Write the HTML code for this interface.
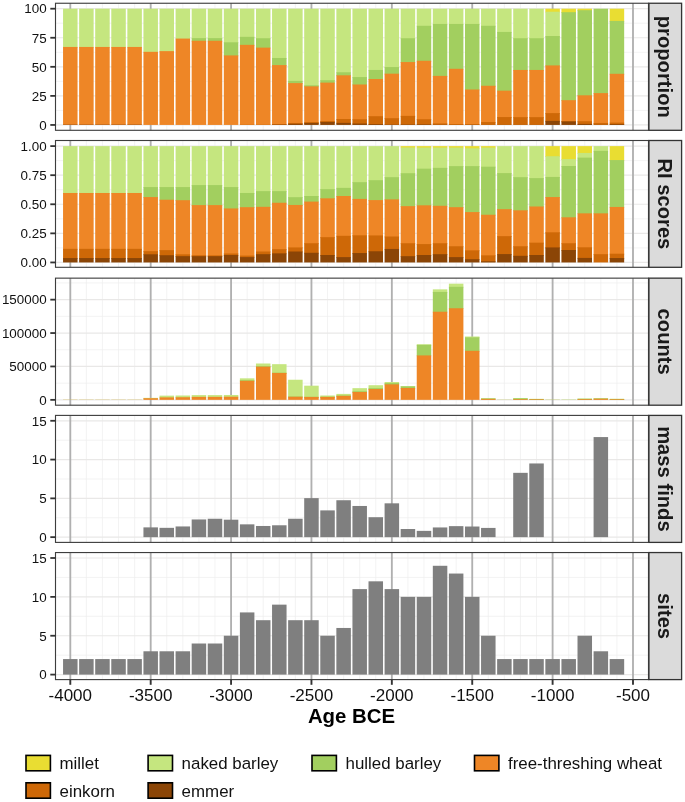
<!DOCTYPE html>
<html><head><meta charset="utf-8"><title>chart</title>
<style>html,body{margin:0;padding:0;background:#fff}body{width:685px;height:802px;overflow:hidden;font-family:"Liberation Sans",sans-serif}</style>
</head><body>
<svg width="685" height="802" viewBox="0 0 685 802" style="display:block;will-change:transform;font-family:'Liberation Sans',sans-serif">
<rect width="685" height="802" fill="#fff"/>
<g>
<line x1="55.5" x2="648.5" y1="110.42" y2="110.42" stroke="#eeeeee" stroke-width="0.7"/>
<line x1="55.5" x2="648.5" y1="81.36" y2="81.36" stroke="#eeeeee" stroke-width="0.7"/>
<line x1="55.5" x2="648.5" y1="52.29" y2="52.29" stroke="#eeeeee" stroke-width="0.7"/>
<line x1="55.5" x2="648.5" y1="23.23" y2="23.23" stroke="#eeeeee" stroke-width="0.7"/>
<line x1="86.38" x2="86.38" y1="3.25" y2="130.3" stroke="#eeeeee" stroke-width="0.7"/>
<line x1="102.45" x2="102.45" y1="3.25" y2="130.3" stroke="#eeeeee" stroke-width="0.7"/>
<line x1="118.53" x2="118.53" y1="3.25" y2="130.3" stroke="#eeeeee" stroke-width="0.7"/>
<line x1="134.61" x2="134.61" y1="3.25" y2="130.3" stroke="#eeeeee" stroke-width="0.7"/>
<line x1="166.76" x2="166.76" y1="3.25" y2="130.3" stroke="#eeeeee" stroke-width="0.7"/>
<line x1="182.84" x2="182.84" y1="3.25" y2="130.3" stroke="#eeeeee" stroke-width="0.7"/>
<line x1="198.92" x2="198.92" y1="3.25" y2="130.3" stroke="#eeeeee" stroke-width="0.7"/>
<line x1="214.99" x2="214.99" y1="3.25" y2="130.3" stroke="#eeeeee" stroke-width="0.7"/>
<line x1="247.15" x2="247.15" y1="3.25" y2="130.3" stroke="#eeeeee" stroke-width="0.7"/>
<line x1="263.22" x2="263.22" y1="3.25" y2="130.3" stroke="#eeeeee" stroke-width="0.7"/>
<line x1="279.3" x2="279.3" y1="3.25" y2="130.3" stroke="#eeeeee" stroke-width="0.7"/>
<line x1="295.38" x2="295.38" y1="3.25" y2="130.3" stroke="#eeeeee" stroke-width="0.7"/>
<line x1="327.53" x2="327.53" y1="3.25" y2="130.3" stroke="#eeeeee" stroke-width="0.7"/>
<line x1="343.61" x2="343.61" y1="3.25" y2="130.3" stroke="#eeeeee" stroke-width="0.7"/>
<line x1="359.69" x2="359.69" y1="3.25" y2="130.3" stroke="#eeeeee" stroke-width="0.7"/>
<line x1="375.76" x2="375.76" y1="3.25" y2="130.3" stroke="#eeeeee" stroke-width="0.7"/>
<line x1="407.92" x2="407.92" y1="3.25" y2="130.3" stroke="#eeeeee" stroke-width="0.7"/>
<line x1="423.99" x2="423.99" y1="3.25" y2="130.3" stroke="#eeeeee" stroke-width="0.7"/>
<line x1="440.07" x2="440.07" y1="3.25" y2="130.3" stroke="#eeeeee" stroke-width="0.7"/>
<line x1="456.15" x2="456.15" y1="3.25" y2="130.3" stroke="#eeeeee" stroke-width="0.7"/>
<line x1="488.3" x2="488.3" y1="3.25" y2="130.3" stroke="#eeeeee" stroke-width="0.7"/>
<line x1="504.38" x2="504.38" y1="3.25" y2="130.3" stroke="#eeeeee" stroke-width="0.7"/>
<line x1="520.46" x2="520.46" y1="3.25" y2="130.3" stroke="#eeeeee" stroke-width="0.7"/>
<line x1="536.53" x2="536.53" y1="3.25" y2="130.3" stroke="#eeeeee" stroke-width="0.7"/>
<line x1="568.69" x2="568.69" y1="3.25" y2="130.3" stroke="#eeeeee" stroke-width="0.7"/>
<line x1="584.76" x2="584.76" y1="3.25" y2="130.3" stroke="#eeeeee" stroke-width="0.7"/>
<line x1="600.84" x2="600.84" y1="3.25" y2="130.3" stroke="#eeeeee" stroke-width="0.7"/>
<line x1="616.92" x2="616.92" y1="3.25" y2="130.3" stroke="#eeeeee" stroke-width="0.7"/>
<line x1="55.5" x2="648.5" y1="124.95" y2="124.95" stroke="#e9e8e7" stroke-width="1.2"/>
<line x1="55.5" x2="648.5" y1="95.89" y2="95.89" stroke="#e9e8e7" stroke-width="1.2"/>
<line x1="55.5" x2="648.5" y1="66.82" y2="66.82" stroke="#e9e8e7" stroke-width="1.2"/>
<line x1="55.5" x2="648.5" y1="37.76" y2="37.76" stroke="#e9e8e7" stroke-width="1.2"/>
<line x1="55.5" x2="648.5" y1="8.7" y2="8.7" stroke="#e9e8e7" stroke-width="1.2"/>
<line x1="70.3" x2="70.3" y1="3.25" y2="130.3" stroke="#b0b0b0" stroke-width="1.85"/>
<line x1="150.69" x2="150.69" y1="3.25" y2="130.3" stroke="#b0b0b0" stroke-width="1.85"/>
<line x1="231.07" x2="231.07" y1="3.25" y2="130.3" stroke="#b0b0b0" stroke-width="1.85"/>
<line x1="311.45" x2="311.45" y1="3.25" y2="130.3" stroke="#b0b0b0" stroke-width="1.85"/>
<line x1="391.84" x2="391.84" y1="3.25" y2="130.3" stroke="#b0b0b0" stroke-width="1.85"/>
<line x1="472.23" x2="472.23" y1="3.25" y2="130.3" stroke="#b0b0b0" stroke-width="1.85"/>
<line x1="552.61" x2="552.61" y1="3.25" y2="130.3" stroke="#b0b0b0" stroke-width="1.85"/>
<line x1="632.99" x2="632.99" y1="3.25" y2="130.3" stroke="#b0b0b0" stroke-width="1.85"/>
<rect x="63.05" y="8.7" width="14.5" height="39.05" fill="#c5e67f"/>
<rect x="63.05" y="46.95" width="14.5" height="78" fill="#ee8626"/>
<rect x="63.05" y="124.6" width="14.5" height="0.35" fill="#8b4506"/>
<rect x="79.13" y="8.7" width="14.5" height="39.05" fill="#c5e67f"/>
<rect x="79.13" y="46.95" width="14.5" height="78" fill="#ee8626"/>
<rect x="79.13" y="124.6" width="14.5" height="0.35" fill="#8b4506"/>
<rect x="95.2" y="8.7" width="14.5" height="39.05" fill="#c5e67f"/>
<rect x="95.2" y="46.95" width="14.5" height="78" fill="#ee8626"/>
<rect x="95.2" y="124.6" width="14.5" height="0.35" fill="#8b4506"/>
<rect x="111.28" y="8.7" width="14.5" height="39.05" fill="#c5e67f"/>
<rect x="111.28" y="46.95" width="14.5" height="78" fill="#ee8626"/>
<rect x="111.28" y="124.6" width="14.5" height="0.35" fill="#8b4506"/>
<rect x="127.36" y="8.7" width="14.5" height="39.05" fill="#c5e67f"/>
<rect x="127.36" y="46.95" width="14.5" height="78" fill="#ee8626"/>
<rect x="127.36" y="124.6" width="14.5" height="0.35" fill="#8b4506"/>
<rect x="143.44" y="8.7" width="14.5" height="43.93" fill="#c5e67f"/>
<rect x="143.44" y="51.83" width="14.5" height="73.12" fill="#ee8626"/>
<rect x="159.51" y="8.7" width="14.5" height="43.23" fill="#c5e67f"/>
<rect x="159.51" y="51.13" width="14.5" height="73.82" fill="#ee8626"/>
<rect x="175.59" y="8.7" width="14.5" height="30.68" fill="#c5e67f"/>
<rect x="175.59" y="38.58" width="14.5" height="86.37" fill="#ee8626"/>
<rect x="191.67" y="8.7" width="14.5" height="30.21" fill="#c5e67f"/>
<rect x="191.67" y="38.11" width="14.5" height="3.47" fill="#a2cf5f"/>
<rect x="191.67" y="40.78" width="14.5" height="84.17" fill="#ee8626"/>
<rect x="207.74" y="8.7" width="14.5" height="30.21" fill="#c5e67f"/>
<rect x="207.74" y="38.11" width="14.5" height="3.47" fill="#a2cf5f"/>
<rect x="207.74" y="40.78" width="14.5" height="84.17" fill="#ee8626"/>
<rect x="223.82" y="8.7" width="14.5" height="34.4" fill="#c5e67f"/>
<rect x="223.82" y="42.3" width="14.5" height="13.94" fill="#a2cf5f"/>
<rect x="223.82" y="55.43" width="14.5" height="69.52" fill="#ee8626"/>
<rect x="239.9" y="8.7" width="14.5" height="28.93" fill="#c5e67f"/>
<rect x="239.9" y="36.83" width="14.5" height="8.82" fill="#a2cf5f"/>
<rect x="239.9" y="44.85" width="14.5" height="80.1" fill="#ee8626"/>
<rect x="239.9" y="124.6" width="14.5" height="0.35" fill="#ce6807"/>
<rect x="255.97" y="8.7" width="14.5" height="30.33" fill="#c5e67f"/>
<rect x="255.97" y="38.23" width="14.5" height="10.22" fill="#a2cf5f"/>
<rect x="255.97" y="47.64" width="14.5" height="77.31" fill="#ee8626"/>
<rect x="255.97" y="124.6" width="14.5" height="0.35" fill="#ce6807"/>
<rect x="272.05" y="8.7" width="14.5" height="50.09" fill="#c5e67f"/>
<rect x="272.05" y="57.99" width="14.5" height="7.89" fill="#a2cf5f"/>
<rect x="272.05" y="65.08" width="14.5" height="59.87" fill="#ee8626"/>
<rect x="272.05" y="124.25" width="14.5" height="0.7" fill="#ce6807"/>
<rect x="272.05" y="124.6" width="14.5" height="0.35" fill="#8b4506"/>
<rect x="288.13" y="8.7" width="14.5" height="72.99" fill="#c5e67f"/>
<rect x="288.13" y="80.89" width="14.5" height="3.01" fill="#a2cf5f"/>
<rect x="288.13" y="83.1" width="14.5" height="40.67" fill="#ee8626"/>
<rect x="288.13" y="122.97" width="14.5" height="1.61" fill="#ce6807"/>
<rect x="288.13" y="123.79" width="14.5" height="1.16" fill="#8b4506"/>
<rect x="304.2" y="8.7" width="14.5" height="77.41" fill="#c5e67f"/>
<rect x="304.2" y="85.31" width="14.5" height="1.85" fill="#a2cf5f"/>
<rect x="304.2" y="86.35" width="14.5" height="36.49" fill="#ee8626"/>
<rect x="304.2" y="122.04" width="14.5" height="1.73" fill="#ce6807"/>
<rect x="304.2" y="122.97" width="14.5" height="1.98" fill="#8b4506"/>
<rect x="320.28" y="8.7" width="14.5" height="72.29" fill="#c5e67f"/>
<rect x="320.28" y="80.19" width="14.5" height="3.24" fill="#a2cf5f"/>
<rect x="320.28" y="82.63" width="14.5" height="39.16" fill="#ee8626"/>
<rect x="320.28" y="121" width="14.5" height="1.85" fill="#ce6807"/>
<rect x="320.28" y="122.04" width="14.5" height="2.91" fill="#8b4506"/>
<rect x="336.36" y="8.7" width="14.5" height="64.39" fill="#c5e67f"/>
<rect x="336.36" y="72.29" width="14.5" height="3.82" fill="#a2cf5f"/>
<rect x="336.36" y="75.31" width="14.5" height="44.51" fill="#ee8626"/>
<rect x="336.36" y="119.02" width="14.5" height="4.64" fill="#ce6807"/>
<rect x="336.36" y="122.86" width="14.5" height="2.09" fill="#8b4506"/>
<rect x="352.44" y="8.7" width="14.5" height="69.16" fill="#c5e67f"/>
<rect x="352.44" y="77.05" width="14.5" height="8.24" fill="#a2cf5f"/>
<rect x="352.44" y="84.5" width="14.5" height="35.56" fill="#ee8626"/>
<rect x="352.44" y="119.25" width="14.5" height="5.1" fill="#ce6807"/>
<rect x="352.44" y="123.56" width="14.5" height="1.39" fill="#8b4506"/>
<rect x="368.51" y="8.7" width="14.5" height="62.06" fill="#c5e67f"/>
<rect x="368.51" y="69.96" width="14.5" height="9.87" fill="#a2cf5f"/>
<rect x="368.51" y="79.03" width="14.5" height="38" fill="#ee8626"/>
<rect x="368.51" y="116.23" width="14.5" height="8.7" fill="#ce6807"/>
<rect x="368.51" y="124.14" width="14.5" height="0.81" fill="#8b4506"/>
<rect x="384.59" y="8.7" width="14.5" height="59.16" fill="#c5e67f"/>
<rect x="384.59" y="67.06" width="14.5" height="7.43" fill="#a2cf5f"/>
<rect x="384.59" y="73.68" width="14.5" height="45.32" fill="#ee8626"/>
<rect x="384.59" y="118.21" width="14.5" height="6.74" fill="#ce6807"/>
<rect x="384.59" y="124.6" width="14.5" height="0.35" fill="#8b4506"/>
<rect x="400.67" y="8.7" width="14.5" height="30.33" fill="#c5e67f"/>
<rect x="400.67" y="38.23" width="14.5" height="24.63" fill="#a2cf5f"/>
<rect x="400.67" y="62.06" width="14.5" height="54.62" fill="#ee8626"/>
<rect x="400.67" y="115.88" width="14.5" height="9.07" fill="#ce6807"/>
<rect x="400.67" y="124.48" width="14.5" height="0.47" fill="#8b4506"/>
<rect x="416.74" y="8.7" width="14.5" height="17.89" fill="#c5e67f"/>
<rect x="416.74" y="25.79" width="14.5" height="35.79" fill="#a2cf5f"/>
<rect x="416.74" y="60.78" width="14.5" height="59.27" fill="#ee8626"/>
<rect x="416.74" y="119.25" width="14.5" height="5.7" fill="#ce6807"/>
<rect x="416.74" y="124.37" width="14.5" height="0.58" fill="#8b4506"/>
<rect x="432.82" y="8.7" width="14.5" height="16.03" fill="#c5e67f"/>
<rect x="432.82" y="23.93" width="14.5" height="52.76" fill="#a2cf5f"/>
<rect x="432.82" y="75.89" width="14.5" height="48.35" fill="#ee8626"/>
<rect x="432.82" y="123.44" width="14.5" height="1.51" fill="#ce6807"/>
<rect x="432.82" y="124.72" width="14.5" height="0.23" fill="#8b4506"/>
<rect x="448.9" y="8.7" width="14.5" height="16.03" fill="#c5e67f"/>
<rect x="448.9" y="23.93" width="14.5" height="45.67" fill="#a2cf5f"/>
<rect x="448.9" y="68.8" width="14.5" height="56.13" fill="#ee8626"/>
<rect x="448.9" y="124.14" width="14.5" height="0.81" fill="#ce6807"/>
<rect x="448.9" y="124.83" width="14.5" height="0.12" fill="#8b4506"/>
<rect x="464.98" y="8.7" width="14.5" height="16.03" fill="#c5e67f"/>
<rect x="464.98" y="23.93" width="14.5" height="66.37" fill="#a2cf5f"/>
<rect x="464.98" y="89.49" width="14.5" height="35.44" fill="#ee8626"/>
<rect x="464.98" y="124.14" width="14.5" height="0.81" fill="#ce6807"/>
<rect x="464.98" y="124.83" width="14.5" height="0.12" fill="#8b4506"/>
<rect x="481.05" y="8.7" width="14.5" height="17.89" fill="#c5e67f"/>
<rect x="481.05" y="25.79" width="14.5" height="60.79" fill="#a2cf5f"/>
<rect x="481.05" y="85.77" width="14.5" height="37.07" fill="#ee8626"/>
<rect x="481.05" y="122.04" width="14.5" height="2.91" fill="#ce6807"/>
<rect x="481.05" y="124.83" width="14.5" height="0.12" fill="#8b4506"/>
<rect x="497.13" y="8.7" width="14.5" height="24.05" fill="#c5e67f"/>
<rect x="497.13" y="31.95" width="14.5" height="59.51" fill="#a2cf5f"/>
<rect x="497.13" y="90.66" width="14.5" height="27.19" fill="#ee8626"/>
<rect x="497.13" y="117.05" width="14.5" height="7.91" fill="#ce6807"/>
<rect x="497.13" y="124.83" width="14.5" height="0.12" fill="#8b4506"/>
<rect x="513.21" y="8.7" width="14.5" height="30.33" fill="#c5e67f"/>
<rect x="513.21" y="38.23" width="14.5" height="32.54" fill="#a2cf5f"/>
<rect x="513.21" y="69.96" width="14.5" height="48" fill="#ee8626"/>
<rect x="513.21" y="117.16" width="14.5" height="7.79" fill="#ce6807"/>
<rect x="513.21" y="124.83" width="14.5" height="0.12" fill="#8b4506"/>
<rect x="529.28" y="8.7" width="14.5" height="30.33" fill="#c5e67f"/>
<rect x="529.28" y="38.23" width="14.5" height="32.54" fill="#a2cf5f"/>
<rect x="529.28" y="69.96" width="14.5" height="48" fill="#ee8626"/>
<rect x="529.28" y="117.16" width="14.5" height="7.79" fill="#ce6807"/>
<rect x="529.28" y="124.83" width="14.5" height="0.12" fill="#8b4506"/>
<rect x="545.36" y="8.7" width="14.5" height="3.82" fill="#e9dd32"/>
<rect x="545.36" y="11.72" width="14.5" height="25.1" fill="#c5e67f"/>
<rect x="545.36" y="36.02" width="14.5" height="30.21" fill="#a2cf5f"/>
<rect x="545.36" y="65.43" width="14.5" height="48.46" fill="#ee8626"/>
<rect x="545.36" y="113.09" width="14.5" height="8.59" fill="#ce6807"/>
<rect x="545.36" y="120.88" width="14.5" height="4.07" fill="#8b4506"/>
<rect x="561.44" y="8.7" width="14.5" height="4.29" fill="#e9dd32"/>
<rect x="561.44" y="12.19" width="14.5" height="88.8" fill="#a2cf5f"/>
<rect x="561.44" y="100.19" width="14.5" height="21.72" fill="#ee8626"/>
<rect x="561.44" y="121.11" width="14.5" height="1.15" fill="#ce6807"/>
<rect x="561.44" y="121.46" width="14.5" height="3.49" fill="#8b4506"/>
<rect x="577.51" y="8.7" width="14.5" height="2.31" fill="#e9dd32"/>
<rect x="577.51" y="10.21" width="14.5" height="85.9" fill="#a2cf5f"/>
<rect x="577.51" y="95.31" width="14.5" height="26.72" fill="#ee8626"/>
<rect x="577.51" y="121.23" width="14.5" height="3.47" fill="#ce6807"/>
<rect x="577.51" y="123.9" width="14.5" height="1.05" fill="#8b4506"/>
<rect x="593.59" y="8.7" width="14.5" height="85.2" fill="#a2cf5f"/>
<rect x="593.59" y="93.1" width="14.5" height="30.68" fill="#ee8626"/>
<rect x="593.59" y="122.97" width="14.5" height="1.98" fill="#ce6807"/>
<rect x="593.59" y="124.72" width="14.5" height="0.23" fill="#8b4506"/>
<rect x="609.67" y="8.7" width="14.5" height="13.01" fill="#e9dd32"/>
<rect x="609.67" y="20.91" width="14.5" height="53.69" fill="#a2cf5f"/>
<rect x="609.67" y="73.8" width="14.5" height="49.62" fill="#ee8626"/>
<rect x="609.67" y="122.62" width="14.5" height="2.31" fill="#ce6807"/>
<rect x="609.67" y="124.14" width="14.5" height="0.81" fill="#8b4506"/>
<rect x="55.5" y="3.25" width="593" height="127.05" fill="none" stroke="#3d3d3d" stroke-width="1.12"/>
<rect x="648.95" y="3.25" width="32.65" height="127.05" fill="#dbdbdb" stroke="#333" stroke-width="1.3"/>
<text transform="translate(657.7 66.78) rotate(90)" text-anchor="middle" font-size="20.2" font-weight="bold" fill="#1a1a1a">proportion</text>
<line x1="50.3" x2="55.5" y1="124.95" y2="124.95" stroke="#333" stroke-width="1.8"/>
<text x="46.6" y="130" text-anchor="end" font-size="13.4" fill="#111">0</text>
<line x1="50.3" x2="55.5" y1="95.89" y2="95.89" stroke="#333" stroke-width="1.8"/>
<text x="46.6" y="101" text-anchor="end" font-size="13.4" fill="#111">25</text>
<line x1="50.3" x2="55.5" y1="66.82" y2="66.82" stroke="#333" stroke-width="1.8"/>
<text x="46.6" y="72" text-anchor="end" font-size="13.4" fill="#111">50</text>
<line x1="50.3" x2="55.5" y1="37.76" y2="37.76" stroke="#333" stroke-width="1.8"/>
<text x="46.6" y="43" text-anchor="end" font-size="13.4" fill="#111">75</text>
<line x1="50.3" x2="55.5" y1="8.7" y2="8.7" stroke="#333" stroke-width="1.8"/>
<text x="46.6" y="13" text-anchor="end" font-size="13.4" fill="#111">100</text>
</g>
<g>
<line x1="55.5" x2="648.5" y1="247.91" y2="247.91" stroke="#eeeeee" stroke-width="0.7"/>
<line x1="55.5" x2="648.5" y1="218.82" y2="218.82" stroke="#eeeeee" stroke-width="0.7"/>
<line x1="55.5" x2="648.5" y1="189.73" y2="189.73" stroke="#eeeeee" stroke-width="0.7"/>
<line x1="55.5" x2="648.5" y1="160.64" y2="160.64" stroke="#eeeeee" stroke-width="0.7"/>
<line x1="86.38" x2="86.38" y1="140.5" y2="267.3" stroke="#eeeeee" stroke-width="0.7"/>
<line x1="102.45" x2="102.45" y1="140.5" y2="267.3" stroke="#eeeeee" stroke-width="0.7"/>
<line x1="118.53" x2="118.53" y1="140.5" y2="267.3" stroke="#eeeeee" stroke-width="0.7"/>
<line x1="134.61" x2="134.61" y1="140.5" y2="267.3" stroke="#eeeeee" stroke-width="0.7"/>
<line x1="166.76" x2="166.76" y1="140.5" y2="267.3" stroke="#eeeeee" stroke-width="0.7"/>
<line x1="182.84" x2="182.84" y1="140.5" y2="267.3" stroke="#eeeeee" stroke-width="0.7"/>
<line x1="198.92" x2="198.92" y1="140.5" y2="267.3" stroke="#eeeeee" stroke-width="0.7"/>
<line x1="214.99" x2="214.99" y1="140.5" y2="267.3" stroke="#eeeeee" stroke-width="0.7"/>
<line x1="247.15" x2="247.15" y1="140.5" y2="267.3" stroke="#eeeeee" stroke-width="0.7"/>
<line x1="263.22" x2="263.22" y1="140.5" y2="267.3" stroke="#eeeeee" stroke-width="0.7"/>
<line x1="279.3" x2="279.3" y1="140.5" y2="267.3" stroke="#eeeeee" stroke-width="0.7"/>
<line x1="295.38" x2="295.38" y1="140.5" y2="267.3" stroke="#eeeeee" stroke-width="0.7"/>
<line x1="327.53" x2="327.53" y1="140.5" y2="267.3" stroke="#eeeeee" stroke-width="0.7"/>
<line x1="343.61" x2="343.61" y1="140.5" y2="267.3" stroke="#eeeeee" stroke-width="0.7"/>
<line x1="359.69" x2="359.69" y1="140.5" y2="267.3" stroke="#eeeeee" stroke-width="0.7"/>
<line x1="375.76" x2="375.76" y1="140.5" y2="267.3" stroke="#eeeeee" stroke-width="0.7"/>
<line x1="407.92" x2="407.92" y1="140.5" y2="267.3" stroke="#eeeeee" stroke-width="0.7"/>
<line x1="423.99" x2="423.99" y1="140.5" y2="267.3" stroke="#eeeeee" stroke-width="0.7"/>
<line x1="440.07" x2="440.07" y1="140.5" y2="267.3" stroke="#eeeeee" stroke-width="0.7"/>
<line x1="456.15" x2="456.15" y1="140.5" y2="267.3" stroke="#eeeeee" stroke-width="0.7"/>
<line x1="488.3" x2="488.3" y1="140.5" y2="267.3" stroke="#eeeeee" stroke-width="0.7"/>
<line x1="504.38" x2="504.38" y1="140.5" y2="267.3" stroke="#eeeeee" stroke-width="0.7"/>
<line x1="520.46" x2="520.46" y1="140.5" y2="267.3" stroke="#eeeeee" stroke-width="0.7"/>
<line x1="536.53" x2="536.53" y1="140.5" y2="267.3" stroke="#eeeeee" stroke-width="0.7"/>
<line x1="568.69" x2="568.69" y1="140.5" y2="267.3" stroke="#eeeeee" stroke-width="0.7"/>
<line x1="584.76" x2="584.76" y1="140.5" y2="267.3" stroke="#eeeeee" stroke-width="0.7"/>
<line x1="600.84" x2="600.84" y1="140.5" y2="267.3" stroke="#eeeeee" stroke-width="0.7"/>
<line x1="616.92" x2="616.92" y1="140.5" y2="267.3" stroke="#eeeeee" stroke-width="0.7"/>
<line x1="55.5" x2="648.5" y1="262.45" y2="262.45" stroke="#e9e8e7" stroke-width="1.2"/>
<line x1="55.5" x2="648.5" y1="233.36" y2="233.36" stroke="#e9e8e7" stroke-width="1.2"/>
<line x1="55.5" x2="648.5" y1="204.27" y2="204.27" stroke="#e9e8e7" stroke-width="1.2"/>
<line x1="55.5" x2="648.5" y1="175.19" y2="175.19" stroke="#e9e8e7" stroke-width="1.2"/>
<line x1="55.5" x2="648.5" y1="146.1" y2="146.1" stroke="#e9e8e7" stroke-width="1.2"/>
<line x1="70.3" x2="70.3" y1="140.5" y2="267.3" stroke="#b0b0b0" stroke-width="1.85"/>
<line x1="150.69" x2="150.69" y1="140.5" y2="267.3" stroke="#b0b0b0" stroke-width="1.85"/>
<line x1="231.07" x2="231.07" y1="140.5" y2="267.3" stroke="#b0b0b0" stroke-width="1.85"/>
<line x1="311.45" x2="311.45" y1="140.5" y2="267.3" stroke="#b0b0b0" stroke-width="1.85"/>
<line x1="391.84" x2="391.84" y1="140.5" y2="267.3" stroke="#b0b0b0" stroke-width="1.85"/>
<line x1="472.23" x2="472.23" y1="140.5" y2="267.3" stroke="#b0b0b0" stroke-width="1.85"/>
<line x1="552.61" x2="552.61" y1="140.5" y2="267.3" stroke="#b0b0b0" stroke-width="1.85"/>
<line x1="632.99" x2="632.99" y1="140.5" y2="267.3" stroke="#b0b0b0" stroke-width="1.85"/>
<rect x="63.05" y="146.1" width="14.5" height="47.69" fill="#c5e67f"/>
<rect x="63.05" y="192.99" width="14.5" height="56.65" fill="#ee8626"/>
<rect x="63.05" y="248.84" width="14.5" height="9.99" fill="#ce6807"/>
<rect x="63.05" y="258.03" width="14.5" height="4.42" fill="#8b4506"/>
<rect x="79.13" y="146.1" width="14.5" height="47.69" fill="#c5e67f"/>
<rect x="79.13" y="192.99" width="14.5" height="56.65" fill="#ee8626"/>
<rect x="79.13" y="248.84" width="14.5" height="9.99" fill="#ce6807"/>
<rect x="79.13" y="258.03" width="14.5" height="4.42" fill="#8b4506"/>
<rect x="95.2" y="146.1" width="14.5" height="47.69" fill="#c5e67f"/>
<rect x="95.2" y="192.99" width="14.5" height="56.65" fill="#ee8626"/>
<rect x="95.2" y="248.84" width="14.5" height="9.99" fill="#ce6807"/>
<rect x="95.2" y="258.03" width="14.5" height="4.42" fill="#8b4506"/>
<rect x="111.28" y="146.1" width="14.5" height="47.69" fill="#c5e67f"/>
<rect x="111.28" y="192.99" width="14.5" height="56.65" fill="#ee8626"/>
<rect x="111.28" y="248.84" width="14.5" height="9.99" fill="#ce6807"/>
<rect x="111.28" y="258.03" width="14.5" height="4.42" fill="#8b4506"/>
<rect x="127.36" y="146.1" width="14.5" height="47.69" fill="#c5e67f"/>
<rect x="127.36" y="192.99" width="14.5" height="56.65" fill="#ee8626"/>
<rect x="127.36" y="248.84" width="14.5" height="9.99" fill="#ce6807"/>
<rect x="127.36" y="258.03" width="14.5" height="4.42" fill="#8b4506"/>
<rect x="143.44" y="146.1" width="14.5" height="41.76" fill="#c5e67f"/>
<rect x="143.44" y="187.06" width="14.5" height="10.81" fill="#a2cf5f"/>
<rect x="143.44" y="197.06" width="14.5" height="54.9" fill="#ee8626"/>
<rect x="143.44" y="251.16" width="14.5" height="3.94" fill="#ce6807"/>
<rect x="143.44" y="254.31" width="14.5" height="8.14" fill="#8b4506"/>
<rect x="159.51" y="146.1" width="14.5" height="41.76" fill="#c5e67f"/>
<rect x="159.51" y="187.06" width="14.5" height="13.48" fill="#a2cf5f"/>
<rect x="159.51" y="199.74" width="14.5" height="51.18" fill="#ee8626"/>
<rect x="159.51" y="250.12" width="14.5" height="5.92" fill="#ce6807"/>
<rect x="159.51" y="255.24" width="14.5" height="7.21" fill="#8b4506"/>
<rect x="175.59" y="146.1" width="14.5" height="41.76" fill="#c5e67f"/>
<rect x="175.59" y="187.06" width="14.5" height="13.95" fill="#a2cf5f"/>
<rect x="175.59" y="200.2" width="14.5" height="54.9" fill="#ee8626"/>
<rect x="175.59" y="254.31" width="14.5" height="2.66" fill="#ce6807"/>
<rect x="175.59" y="256.17" width="14.5" height="6.28" fill="#8b4506"/>
<rect x="191.67" y="146.1" width="14.5" height="39.78" fill="#c5e67f"/>
<rect x="191.67" y="185.08" width="14.5" height="20.81" fill="#a2cf5f"/>
<rect x="191.67" y="205.09" width="14.5" height="50.95" fill="#ee8626"/>
<rect x="191.67" y="255.24" width="14.5" height="1.73" fill="#ce6807"/>
<rect x="191.67" y="256.17" width="14.5" height="6.28" fill="#8b4506"/>
<rect x="207.74" y="146.1" width="14.5" height="39.78" fill="#c5e67f"/>
<rect x="207.74" y="185.08" width="14.5" height="20.81" fill="#a2cf5f"/>
<rect x="207.74" y="205.09" width="14.5" height="51.06" fill="#ee8626"/>
<rect x="207.74" y="255.35" width="14.5" height="1.61" fill="#ce6807"/>
<rect x="207.74" y="256.17" width="14.5" height="6.28" fill="#8b4506"/>
<rect x="223.82" y="146.1" width="14.5" height="41.76" fill="#c5e67f"/>
<rect x="223.82" y="187.06" width="14.5" height="22.21" fill="#a2cf5f"/>
<rect x="223.82" y="208.46" width="14.5" height="45.83" fill="#ee8626"/>
<rect x="223.82" y="253.49" width="14.5" height="2.31" fill="#ce6807"/>
<rect x="223.82" y="255" width="14.5" height="7.45" fill="#8b4506"/>
<rect x="239.9" y="146.1" width="14.5" height="47.69" fill="#c5e67f"/>
<rect x="239.9" y="192.99" width="14.5" height="14.99" fill="#a2cf5f"/>
<rect x="239.9" y="207.18" width="14.5" height="49.2" fill="#ee8626"/>
<rect x="239.9" y="255.59" width="14.5" height="2.31" fill="#ce6807"/>
<rect x="239.9" y="257.1" width="14.5" height="5.35" fill="#8b4506"/>
<rect x="255.97" y="146.1" width="14.5" height="45.83" fill="#c5e67f"/>
<rect x="255.97" y="191.13" width="14.5" height="16.51" fill="#a2cf5f"/>
<rect x="255.97" y="206.83" width="14.5" height="45.48" fill="#ee8626"/>
<rect x="255.97" y="251.51" width="14.5" height="3.48" fill="#ce6807"/>
<rect x="255.97" y="254.19" width="14.5" height="8.26" fill="#8b4506"/>
<rect x="272.05" y="146.1" width="14.5" height="45.83" fill="#c5e67f"/>
<rect x="272.05" y="191.13" width="14.5" height="12.44" fill="#a2cf5f"/>
<rect x="272.05" y="202.76" width="14.5" height="47.22" fill="#ee8626"/>
<rect x="272.05" y="249.19" width="14.5" height="4.99" fill="#ce6807"/>
<rect x="272.05" y="253.37" width="14.5" height="9.08" fill="#8b4506"/>
<rect x="288.13" y="146.1" width="14.5" height="51.88" fill="#c5e67f"/>
<rect x="288.13" y="197.18" width="14.5" height="8.6" fill="#a2cf5f"/>
<rect x="288.13" y="204.97" width="14.5" height="43.27" fill="#ee8626"/>
<rect x="288.13" y="247.44" width="14.5" height="4.87" fill="#ce6807"/>
<rect x="288.13" y="251.51" width="14.5" height="10.94" fill="#8b4506"/>
<rect x="304.2" y="146.1" width="14.5" height="50.71" fill="#c5e67f"/>
<rect x="304.2" y="196.01" width="14.5" height="6.38" fill="#a2cf5f"/>
<rect x="304.2" y="201.6" width="14.5" height="42.45" fill="#ee8626"/>
<rect x="304.2" y="243.25" width="14.5" height="10.34" fill="#ce6807"/>
<rect x="304.2" y="252.79" width="14.5" height="9.66" fill="#8b4506"/>
<rect x="320.28" y="146.1" width="14.5" height="43.85" fill="#c5e67f"/>
<rect x="320.28" y="189.15" width="14.5" height="9.99" fill="#a2cf5f"/>
<rect x="320.28" y="198.34" width="14.5" height="39.66" fill="#ee8626"/>
<rect x="320.28" y="237.2" width="14.5" height="18.6" fill="#ce6807"/>
<rect x="320.28" y="255" width="14.5" height="7.45" fill="#8b4506"/>
<rect x="336.36" y="146.1" width="14.5" height="42.57" fill="#c5e67f"/>
<rect x="336.36" y="187.87" width="14.5" height="8.94" fill="#a2cf5f"/>
<rect x="336.36" y="196.01" width="14.5" height="40.59" fill="#ee8626"/>
<rect x="336.36" y="235.81" width="14.5" height="22.09" fill="#ce6807"/>
<rect x="336.36" y="257.1" width="14.5" height="5.35" fill="#8b4506"/>
<rect x="352.44" y="146.1" width="14.5" height="36.87" fill="#c5e67f"/>
<rect x="352.44" y="182.17" width="14.5" height="17.55" fill="#a2cf5f"/>
<rect x="352.44" y="198.92" width="14.5" height="37.22" fill="#ee8626"/>
<rect x="352.44" y="235.34" width="14.5" height="18.49" fill="#ce6807"/>
<rect x="352.44" y="253.03" width="14.5" height="9.42" fill="#8b4506"/>
<rect x="368.51" y="146.1" width="14.5" height="34.89" fill="#c5e67f"/>
<rect x="368.51" y="180.19" width="14.5" height="20.7" fill="#a2cf5f"/>
<rect x="368.51" y="200.09" width="14.5" height="36.17" fill="#ee8626"/>
<rect x="368.51" y="235.46" width="14.5" height="16.62" fill="#ce6807"/>
<rect x="368.51" y="251.28" width="14.5" height="11.17" fill="#8b4506"/>
<rect x="384.59" y="146.1" width="14.5" height="31.87" fill="#c5e67f"/>
<rect x="384.59" y="177.17" width="14.5" height="23.02" fill="#a2cf5f"/>
<rect x="384.59" y="199.39" width="14.5" height="37.92" fill="#ee8626"/>
<rect x="384.59" y="236.5" width="14.5" height="13.25" fill="#ce6807"/>
<rect x="384.59" y="248.95" width="14.5" height="13.5" fill="#8b4506"/>
<rect x="400.67" y="146.1" width="14.5" height="2.2" fill="#e9dd32"/>
<rect x="400.67" y="147.5" width="14.5" height="26.51" fill="#c5e67f"/>
<rect x="400.67" y="173.21" width="14.5" height="33.73" fill="#a2cf5f"/>
<rect x="400.67" y="206.14" width="14.5" height="37.92" fill="#ee8626"/>
<rect x="400.67" y="243.25" width="14.5" height="13.71" fill="#ce6807"/>
<rect x="400.67" y="256.17" width="14.5" height="6.28" fill="#8b4506"/>
<rect x="416.74" y="146.1" width="14.5" height="2.31" fill="#e9dd32"/>
<rect x="416.74" y="147.61" width="14.5" height="21.86" fill="#c5e67f"/>
<rect x="416.74" y="168.67" width="14.5" height="37.45" fill="#a2cf5f"/>
<rect x="416.74" y="205.32" width="14.5" height="39.54" fill="#ee8626"/>
<rect x="416.74" y="244.07" width="14.5" height="11.74" fill="#ce6807"/>
<rect x="416.74" y="255" width="14.5" height="7.45" fill="#8b4506"/>
<rect x="432.82" y="146.1" width="14.5" height="2.31" fill="#e9dd32"/>
<rect x="432.82" y="147.61" width="14.5" height="21.04" fill="#c5e67f"/>
<rect x="432.82" y="167.86" width="14.5" height="38.73" fill="#a2cf5f"/>
<rect x="432.82" y="205.79" width="14.5" height="38.26" fill="#ee8626"/>
<rect x="432.82" y="243.25" width="14.5" height="11.74" fill="#ce6807"/>
<rect x="432.82" y="254.19" width="14.5" height="8.26" fill="#8b4506"/>
<rect x="448.9" y="146.1" width="14.5" height="2.31" fill="#e9dd32"/>
<rect x="448.9" y="147.61" width="14.5" height="19.3" fill="#c5e67f"/>
<rect x="448.9" y="166.11" width="14.5" height="41.87" fill="#a2cf5f"/>
<rect x="448.9" y="207.18" width="14.5" height="39.89" fill="#ee8626"/>
<rect x="448.9" y="246.28" width="14.5" height="11.62" fill="#ce6807"/>
<rect x="448.9" y="257.1" width="14.5" height="5.35" fill="#8b4506"/>
<rect x="464.98" y="146.1" width="14.5" height="3.01" fill="#e9dd32"/>
<rect x="464.98" y="148.31" width="14.5" height="18.6" fill="#c5e67f"/>
<rect x="464.98" y="166.11" width="14.5" height="46.76" fill="#a2cf5f"/>
<rect x="464.98" y="212.07" width="14.5" height="39.08" fill="#ee8626"/>
<rect x="464.98" y="250.35" width="14.5" height="9.64" fill="#ce6807"/>
<rect x="464.98" y="259.19" width="14.5" height="3.26" fill="#8b4506"/>
<rect x="481.05" y="146.1" width="14.5" height="2.31" fill="#e9dd32"/>
<rect x="481.05" y="147.61" width="14.5" height="19.88" fill="#c5e67f"/>
<rect x="481.05" y="166.69" width="14.5" height="48.85" fill="#a2cf5f"/>
<rect x="481.05" y="214.75" width="14.5" height="41.41" fill="#ee8626"/>
<rect x="481.05" y="255.35" width="14.5" height="6.73" fill="#ce6807"/>
<rect x="481.05" y="261.29" width="14.5" height="1.16" fill="#8b4506"/>
<rect x="497.13" y="146.1" width="14.5" height="27.79" fill="#c5e67f"/>
<rect x="497.13" y="173.09" width="14.5" height="36.87" fill="#a2cf5f"/>
<rect x="497.13" y="209.16" width="14.5" height="27.79" fill="#ee8626"/>
<rect x="497.13" y="236.15" width="14.5" height="18.72" fill="#ce6807"/>
<rect x="497.13" y="254.07" width="14.5" height="8.38" fill="#8b4506"/>
<rect x="513.21" y="146.1" width="14.5" height="31.87" fill="#c5e67f"/>
<rect x="513.21" y="177.17" width="14.5" height="33.96" fill="#a2cf5f"/>
<rect x="513.21" y="210.33" width="14.5" height="36.75" fill="#ee8626"/>
<rect x="513.21" y="246.28" width="14.5" height="10.34" fill="#ce6807"/>
<rect x="513.21" y="255.82" width="14.5" height="6.63" fill="#8b4506"/>
<rect x="529.28" y="146.1" width="14.5" height="32.8" fill="#c5e67f"/>
<rect x="529.28" y="178.1" width="14.5" height="29.19" fill="#a2cf5f"/>
<rect x="529.28" y="206.49" width="14.5" height="36.98" fill="#ee8626"/>
<rect x="529.28" y="242.67" width="14.5" height="13.13" fill="#ce6807"/>
<rect x="529.28" y="255" width="14.5" height="7.45" fill="#8b4506"/>
<rect x="545.36" y="146.1" width="14.5" height="10.92" fill="#e9dd32"/>
<rect x="545.36" y="156.22" width="14.5" height="21.51" fill="#c5e67f"/>
<rect x="545.36" y="176.93" width="14.5" height="20.93" fill="#a2cf5f"/>
<rect x="545.36" y="197.06" width="14.5" height="36.05" fill="#ee8626"/>
<rect x="545.36" y="232.32" width="14.5" height="15.93" fill="#ce6807"/>
<rect x="545.36" y="247.44" width="14.5" height="15.01" fill="#8b4506"/>
<rect x="561.44" y="146.1" width="14.5" height="13.83" fill="#e9dd32"/>
<rect x="561.44" y="159.13" width="14.5" height="7.66" fill="#c5e67f"/>
<rect x="561.44" y="166" width="14.5" height="52.11" fill="#a2cf5f"/>
<rect x="561.44" y="217.31" width="14.5" height="26.75" fill="#ee8626"/>
<rect x="561.44" y="243.25" width="14.5" height="7.55" fill="#ce6807"/>
<rect x="561.44" y="250" width="14.5" height="12.45" fill="#8b4506"/>
<rect x="577.51" y="146.1" width="14.5" height="7.66" fill="#e9dd32"/>
<rect x="577.51" y="152.96" width="14.5" height="5.45" fill="#c5e67f"/>
<rect x="577.51" y="157.62" width="14.5" height="56.53" fill="#a2cf5f"/>
<rect x="577.51" y="213.35" width="14.5" height="34.77" fill="#ee8626"/>
<rect x="577.51" y="247.32" width="14.5" height="11.39" fill="#ce6807"/>
<rect x="577.51" y="257.91" width="14.5" height="4.54" fill="#8b4506"/>
<rect x="593.59" y="146.1" width="14.5" height="5.57" fill="#c5e67f"/>
<rect x="593.59" y="150.87" width="14.5" height="63.28" fill="#a2cf5f"/>
<rect x="593.59" y="213.35" width="14.5" height="41.64" fill="#ee8626"/>
<rect x="593.59" y="254.19" width="14.5" height="8.26" fill="#ce6807"/>
<rect x="609.67" y="146.1" width="14.5" height="14.76" fill="#e9dd32"/>
<rect x="609.67" y="160.06" width="14.5" height="47.69" fill="#a2cf5f"/>
<rect x="609.67" y="206.95" width="14.5" height="47.57" fill="#ee8626"/>
<rect x="609.67" y="253.72" width="14.5" height="5.1" fill="#ce6807"/>
<rect x="609.67" y="258.03" width="14.5" height="4.42" fill="#8b4506"/>
<rect x="55.5" y="140.5" width="593" height="126.8" fill="none" stroke="#3d3d3d" stroke-width="1.12"/>
<rect x="648.95" y="140.5" width="32.65" height="126.8" fill="#dbdbdb" stroke="#333" stroke-width="1.3"/>
<text transform="translate(657.7 203.9) rotate(90)" text-anchor="middle" font-size="20.2" font-weight="bold" fill="#1a1a1a">RI scores</text>
<line x1="50.3" x2="55.5" y1="262.45" y2="262.45" stroke="#333" stroke-width="1.8"/>
<text x="46.6" y="267" text-anchor="end" font-size="13.4" fill="#111">0.00</text>
<line x1="50.3" x2="55.5" y1="233.36" y2="233.36" stroke="#333" stroke-width="1.8"/>
<text x="46.6" y="238" text-anchor="end" font-size="13.4" fill="#111">0.25</text>
<line x1="50.3" x2="55.5" y1="204.27" y2="204.27" stroke="#333" stroke-width="1.8"/>
<text x="46.6" y="209" text-anchor="end" font-size="13.4" fill="#111">0.50</text>
<line x1="50.3" x2="55.5" y1="175.19" y2="175.19" stroke="#333" stroke-width="1.8"/>
<text x="46.6" y="180" text-anchor="end" font-size="13.4" fill="#111">0.75</text>
<line x1="50.3" x2="55.5" y1="146.1" y2="146.1" stroke="#333" stroke-width="1.8"/>
<text x="46.6" y="151" text-anchor="end" font-size="13.4" fill="#111">1.00</text>
</g>
<g>
<line x1="55.5" x2="648.5" y1="383.15" y2="383.15" stroke="#eeeeee" stroke-width="0.7"/>
<line x1="55.5" x2="648.5" y1="349.75" y2="349.75" stroke="#eeeeee" stroke-width="0.7"/>
<line x1="55.5" x2="648.5" y1="316.35" y2="316.35" stroke="#eeeeee" stroke-width="0.7"/>
<line x1="55.5" x2="648.5" y1="282.95" y2="282.95" stroke="#eeeeee" stroke-width="0.7"/>
<line x1="86.38" x2="86.38" y1="278.15" y2="405.2" stroke="#eeeeee" stroke-width="0.7"/>
<line x1="102.45" x2="102.45" y1="278.15" y2="405.2" stroke="#eeeeee" stroke-width="0.7"/>
<line x1="118.53" x2="118.53" y1="278.15" y2="405.2" stroke="#eeeeee" stroke-width="0.7"/>
<line x1="134.61" x2="134.61" y1="278.15" y2="405.2" stroke="#eeeeee" stroke-width="0.7"/>
<line x1="166.76" x2="166.76" y1="278.15" y2="405.2" stroke="#eeeeee" stroke-width="0.7"/>
<line x1="182.84" x2="182.84" y1="278.15" y2="405.2" stroke="#eeeeee" stroke-width="0.7"/>
<line x1="198.92" x2="198.92" y1="278.15" y2="405.2" stroke="#eeeeee" stroke-width="0.7"/>
<line x1="214.99" x2="214.99" y1="278.15" y2="405.2" stroke="#eeeeee" stroke-width="0.7"/>
<line x1="247.15" x2="247.15" y1="278.15" y2="405.2" stroke="#eeeeee" stroke-width="0.7"/>
<line x1="263.22" x2="263.22" y1="278.15" y2="405.2" stroke="#eeeeee" stroke-width="0.7"/>
<line x1="279.3" x2="279.3" y1="278.15" y2="405.2" stroke="#eeeeee" stroke-width="0.7"/>
<line x1="295.38" x2="295.38" y1="278.15" y2="405.2" stroke="#eeeeee" stroke-width="0.7"/>
<line x1="327.53" x2="327.53" y1="278.15" y2="405.2" stroke="#eeeeee" stroke-width="0.7"/>
<line x1="343.61" x2="343.61" y1="278.15" y2="405.2" stroke="#eeeeee" stroke-width="0.7"/>
<line x1="359.69" x2="359.69" y1="278.15" y2="405.2" stroke="#eeeeee" stroke-width="0.7"/>
<line x1="375.76" x2="375.76" y1="278.15" y2="405.2" stroke="#eeeeee" stroke-width="0.7"/>
<line x1="407.92" x2="407.92" y1="278.15" y2="405.2" stroke="#eeeeee" stroke-width="0.7"/>
<line x1="423.99" x2="423.99" y1="278.15" y2="405.2" stroke="#eeeeee" stroke-width="0.7"/>
<line x1="440.07" x2="440.07" y1="278.15" y2="405.2" stroke="#eeeeee" stroke-width="0.7"/>
<line x1="456.15" x2="456.15" y1="278.15" y2="405.2" stroke="#eeeeee" stroke-width="0.7"/>
<line x1="488.3" x2="488.3" y1="278.15" y2="405.2" stroke="#eeeeee" stroke-width="0.7"/>
<line x1="504.38" x2="504.38" y1="278.15" y2="405.2" stroke="#eeeeee" stroke-width="0.7"/>
<line x1="520.46" x2="520.46" y1="278.15" y2="405.2" stroke="#eeeeee" stroke-width="0.7"/>
<line x1="536.53" x2="536.53" y1="278.15" y2="405.2" stroke="#eeeeee" stroke-width="0.7"/>
<line x1="568.69" x2="568.69" y1="278.15" y2="405.2" stroke="#eeeeee" stroke-width="0.7"/>
<line x1="584.76" x2="584.76" y1="278.15" y2="405.2" stroke="#eeeeee" stroke-width="0.7"/>
<line x1="600.84" x2="600.84" y1="278.15" y2="405.2" stroke="#eeeeee" stroke-width="0.7"/>
<line x1="616.92" x2="616.92" y1="278.15" y2="405.2" stroke="#eeeeee" stroke-width="0.7"/>
<line x1="55.5" x2="648.5" y1="399.85" y2="399.85" stroke="#e9e8e7" stroke-width="1.2"/>
<line x1="55.5" x2="648.5" y1="366.45" y2="366.45" stroke="#e9e8e7" stroke-width="1.2"/>
<line x1="55.5" x2="648.5" y1="333.05" y2="333.05" stroke="#e9e8e7" stroke-width="1.2"/>
<line x1="55.5" x2="648.5" y1="299.65" y2="299.65" stroke="#e9e8e7" stroke-width="1.2"/>
<line x1="70.3" x2="70.3" y1="278.15" y2="405.2" stroke="#b0b0b0" stroke-width="1.85"/>
<line x1="150.69" x2="150.69" y1="278.15" y2="405.2" stroke="#b0b0b0" stroke-width="1.85"/>
<line x1="231.07" x2="231.07" y1="278.15" y2="405.2" stroke="#b0b0b0" stroke-width="1.85"/>
<line x1="311.45" x2="311.45" y1="278.15" y2="405.2" stroke="#b0b0b0" stroke-width="1.85"/>
<line x1="391.84" x2="391.84" y1="278.15" y2="405.2" stroke="#b0b0b0" stroke-width="1.85"/>
<line x1="472.23" x2="472.23" y1="278.15" y2="405.2" stroke="#b0b0b0" stroke-width="1.85"/>
<line x1="552.61" x2="552.61" y1="278.15" y2="405.2" stroke="#b0b0b0" stroke-width="1.85"/>
<line x1="632.99" x2="632.99" y1="278.15" y2="405.2" stroke="#b0b0b0" stroke-width="1.85"/>
<rect x="63.05" y="399.65" width="14.5" height="0.2" fill="#c5e67f"/>
<rect x="63.05" y="399.72" width="14.5" height="0.13" fill="#ee8626"/>
<rect x="79.13" y="399.65" width="14.5" height="0.2" fill="#c5e67f"/>
<rect x="79.13" y="399.72" width="14.5" height="0.13" fill="#ee8626"/>
<rect x="95.2" y="399.65" width="14.5" height="0.2" fill="#c5e67f"/>
<rect x="95.2" y="399.72" width="14.5" height="0.13" fill="#ee8626"/>
<rect x="111.28" y="399.65" width="14.5" height="0.2" fill="#c5e67f"/>
<rect x="111.28" y="399.72" width="14.5" height="0.13" fill="#ee8626"/>
<rect x="127.36" y="399.65" width="14.5" height="0.2" fill="#c5e67f"/>
<rect x="127.36" y="399.72" width="14.5" height="0.13" fill="#ee8626"/>
<rect x="143.44" y="397.85" width="14.5" height="1.2" fill="#c5e67f"/>
<rect x="143.44" y="398.25" width="14.5" height="1.6" fill="#ee8626"/>
<rect x="159.51" y="395.64" width="14.5" height="2.54" fill="#c5e67f"/>
<rect x="159.51" y="397.38" width="14.5" height="2.47" fill="#ee8626"/>
<rect x="175.59" y="395.51" width="14.5" height="2.54" fill="#c5e67f"/>
<rect x="175.59" y="397.24" width="14.5" height="2.61" fill="#ee8626"/>
<rect x="191.67" y="395.11" width="14.5" height="2.57" fill="#c5e67f"/>
<rect x="191.67" y="396.88" width="14.5" height="2.97" fill="#ee8626"/>
<rect x="207.74" y="395.11" width="14.5" height="2.57" fill="#c5e67f"/>
<rect x="207.74" y="396.88" width="14.5" height="2.97" fill="#ee8626"/>
<rect x="223.82" y="394.97" width="14.5" height="2.54" fill="#c5e67f"/>
<rect x="223.82" y="396.71" width="14.5" height="3.14" fill="#ee8626"/>
<rect x="239.9" y="378.34" width="14.5" height="2.67" fill="#c5e67f"/>
<rect x="239.9" y="380.21" width="14.5" height="1.4" fill="#a2cf5f"/>
<rect x="239.9" y="380.81" width="14.5" height="19.04" fill="#ee8626"/>
<rect x="255.97" y="363.51" width="14.5" height="3.47" fill="#c5e67f"/>
<rect x="255.97" y="366.18" width="14.5" height="1.27" fill="#a2cf5f"/>
<rect x="255.97" y="366.65" width="14.5" height="33.2" fill="#ee8626"/>
<rect x="272.05" y="364.18" width="14.5" height="9.35" fill="#c5e67f"/>
<rect x="272.05" y="372.73" width="14.5" height="1" fill="#a2cf5f"/>
<rect x="272.05" y="372.93" width="14.5" height="26.92" fill="#ee8626"/>
<rect x="288.13" y="379.74" width="14.5" height="17.63" fill="#c5e67f"/>
<rect x="288.13" y="396.58" width="14.5" height="0.93" fill="#a2cf5f"/>
<rect x="288.13" y="396.71" width="14.5" height="3.14" fill="#ee8626"/>
<rect x="304.2" y="385.69" width="14.5" height="11.96" fill="#c5e67f"/>
<rect x="304.2" y="396.84" width="14.5" height="0.87" fill="#a2cf5f"/>
<rect x="304.2" y="396.91" width="14.5" height="2.94" fill="#ee8626"/>
<rect x="320.28" y="395.51" width="14.5" height="2.07" fill="#c5e67f"/>
<rect x="320.28" y="396.78" width="14.5" height="0.93" fill="#a2cf5f"/>
<rect x="320.28" y="396.91" width="14.5" height="2.94" fill="#ee8626"/>
<rect x="336.36" y="393.9" width="14.5" height="2.4" fill="#c5e67f"/>
<rect x="336.36" y="395.51" width="14.5" height="1.13" fill="#a2cf5f"/>
<rect x="336.36" y="395.84" width="14.5" height="4.01" fill="#ee8626"/>
<rect x="352.44" y="388.16" width="14.5" height="3.94" fill="#c5e67f"/>
<rect x="352.44" y="391.3" width="14.5" height="1.47" fill="#a2cf5f"/>
<rect x="352.44" y="391.97" width="14.5" height="7.88" fill="#ee8626"/>
<rect x="368.51" y="385.22" width="14.5" height="3.67" fill="#c5e67f"/>
<rect x="368.51" y="388.09" width="14.5" height="1.74" fill="#a2cf5f"/>
<rect x="368.51" y="389.03" width="14.5" height="10.82" fill="#ee8626"/>
<rect x="384.59" y="382.01" width="14.5" height="1.8" fill="#c5e67f"/>
<rect x="384.59" y="383.02" width="14.5" height="2.14" fill="#a2cf5f"/>
<rect x="384.59" y="384.35" width="14.5" height="15.5" fill="#ee8626"/>
<rect x="400.67" y="386.16" width="14.5" height="1" fill="#c5e67f"/>
<rect x="400.67" y="386.36" width="14.5" height="2.4" fill="#a2cf5f"/>
<rect x="400.67" y="387.96" width="14.5" height="11.89" fill="#ee8626"/>
<rect x="416.74" y="344.27" width="14.5" height="1.4" fill="#c5e67f"/>
<rect x="416.74" y="344.87" width="14.5" height="11.35" fill="#a2cf5f"/>
<rect x="416.74" y="355.43" width="14.5" height="44.42" fill="#ee8626"/>
<rect x="432.82" y="289.36" width="14.5" height="3.41" fill="#c5e67f"/>
<rect x="432.82" y="291.97" width="14.5" height="20.57" fill="#a2cf5f"/>
<rect x="432.82" y="311.74" width="14.5" height="88.11" fill="#ee8626"/>
<rect x="448.9" y="283.68" width="14.5" height="3.94" fill="#c5e67f"/>
<rect x="448.9" y="286.82" width="14.5" height="22.24" fill="#a2cf5f"/>
<rect x="448.9" y="308.27" width="14.5" height="91.58" fill="#ee8626"/>
<rect x="464.98" y="336.52" width="14.5" height="1.67" fill="#c5e67f"/>
<rect x="464.98" y="337.39" width="14.5" height="14.23" fill="#a2cf5f"/>
<rect x="464.98" y="350.82" width="14.5" height="49.03" fill="#ee8626"/>
<rect x="481.05" y="398.38" width="14.5" height="0.87" fill="#c5e67f"/>
<rect x="481.05" y="398.45" width="14.5" height="1.2" fill="#a2cf5f"/>
<rect x="481.05" y="398.85" width="14.5" height="1" fill="#ee8626"/>
<rect x="497.13" y="399.72" width="14.5" height="0.13" fill="#c5e67f"/>
<rect x="497.13" y="399.75" width="14.5" height="0.1" fill="#a2cf5f"/>
<rect x="497.13" y="399.78" width="14.5" height="0.07" fill="#ee8626"/>
<rect x="513.21" y="398.18" width="14.5" height="0.93" fill="#c5e67f"/>
<rect x="513.21" y="398.31" width="14.5" height="1.54" fill="#a2cf5f"/>
<rect x="513.21" y="399.12" width="14.5" height="0.73" fill="#ee8626"/>
<rect x="529.28" y="398.85" width="14.5" height="0.93" fill="#c5e67f"/>
<rect x="529.28" y="398.98" width="14.5" height="0.87" fill="#a2cf5f"/>
<rect x="529.28" y="399.25" width="14.5" height="0.6" fill="#ee8626"/>
<rect x="545.36" y="399.68" width="14.5" height="0.17" fill="#c5e67f"/>
<rect x="545.36" y="399.72" width="14.5" height="0.13" fill="#a2cf5f"/>
<rect x="545.36" y="399.78" width="14.5" height="0.07" fill="#ee8626"/>
<rect x="561.44" y="399.65" width="14.5" height="0.2" fill="#c5e67f"/>
<rect x="561.44" y="399.68" width="14.5" height="0.17" fill="#a2cf5f"/>
<rect x="561.44" y="399.82" width="14.5" height="0.03" fill="#ee8626"/>
<rect x="577.51" y="398.65" width="14.5" height="0.87" fill="#c5e67f"/>
<rect x="577.51" y="398.71" width="14.5" height="1.14" fill="#a2cf5f"/>
<rect x="577.51" y="399.12" width="14.5" height="0.73" fill="#ee8626"/>
<rect x="593.59" y="398.38" width="14.5" height="0.87" fill="#c5e67f"/>
<rect x="593.59" y="398.45" width="14.5" height="1.07" fill="#a2cf5f"/>
<rect x="593.59" y="398.71" width="14.5" height="1.14" fill="#ee8626"/>
<rect x="609.67" y="398.85" width="14.5" height="0.87" fill="#c5e67f"/>
<rect x="609.67" y="398.91" width="14.5" height="0.94" fill="#a2cf5f"/>
<rect x="609.67" y="399.18" width="14.5" height="0.67" fill="#ee8626"/>
<rect x="55.5" y="278.15" width="593" height="127.05" fill="none" stroke="#3d3d3d" stroke-width="1.12"/>
<rect x="648.95" y="278.15" width="32.65" height="127.05" fill="#dbdbdb" stroke="#333" stroke-width="1.3"/>
<text transform="translate(657.7 341.67) rotate(90)" text-anchor="middle" font-size="20.2" font-weight="bold" fill="#1a1a1a">counts</text>
<line x1="50.3" x2="55.5" y1="399.85" y2="399.85" stroke="#333" stroke-width="1.8"/>
<text x="46.6" y="405" text-anchor="end" font-size="13.4" fill="#111">0</text>
<line x1="50.3" x2="55.5" y1="366.45" y2="366.45" stroke="#333" stroke-width="1.8"/>
<text x="46.6" y="371" text-anchor="end" font-size="13.4" fill="#111">50000</text>
<line x1="50.3" x2="55.5" y1="333.05" y2="333.05" stroke="#333" stroke-width="1.8"/>
<text x="46.6" y="338" text-anchor="end" font-size="13.4" fill="#111">100000</text>
<line x1="50.3" x2="55.5" y1="299.65" y2="299.65" stroke="#333" stroke-width="1.8"/>
<text x="46.6" y="304" text-anchor="end" font-size="13.4" fill="#111">150000</text>
</g>
<g>
<line x1="55.5" x2="648.5" y1="517.76" y2="517.76" stroke="#eeeeee" stroke-width="0.7"/>
<line x1="55.5" x2="648.5" y1="478.97" y2="478.97" stroke="#eeeeee" stroke-width="0.7"/>
<line x1="55.5" x2="648.5" y1="440.19" y2="440.19" stroke="#eeeeee" stroke-width="0.7"/>
<line x1="86.38" x2="86.38" y1="415.4" y2="542.4" stroke="#eeeeee" stroke-width="0.7"/>
<line x1="102.45" x2="102.45" y1="415.4" y2="542.4" stroke="#eeeeee" stroke-width="0.7"/>
<line x1="118.53" x2="118.53" y1="415.4" y2="542.4" stroke="#eeeeee" stroke-width="0.7"/>
<line x1="134.61" x2="134.61" y1="415.4" y2="542.4" stroke="#eeeeee" stroke-width="0.7"/>
<line x1="166.76" x2="166.76" y1="415.4" y2="542.4" stroke="#eeeeee" stroke-width="0.7"/>
<line x1="182.84" x2="182.84" y1="415.4" y2="542.4" stroke="#eeeeee" stroke-width="0.7"/>
<line x1="198.92" x2="198.92" y1="415.4" y2="542.4" stroke="#eeeeee" stroke-width="0.7"/>
<line x1="214.99" x2="214.99" y1="415.4" y2="542.4" stroke="#eeeeee" stroke-width="0.7"/>
<line x1="247.15" x2="247.15" y1="415.4" y2="542.4" stroke="#eeeeee" stroke-width="0.7"/>
<line x1="263.22" x2="263.22" y1="415.4" y2="542.4" stroke="#eeeeee" stroke-width="0.7"/>
<line x1="279.3" x2="279.3" y1="415.4" y2="542.4" stroke="#eeeeee" stroke-width="0.7"/>
<line x1="295.38" x2="295.38" y1="415.4" y2="542.4" stroke="#eeeeee" stroke-width="0.7"/>
<line x1="327.53" x2="327.53" y1="415.4" y2="542.4" stroke="#eeeeee" stroke-width="0.7"/>
<line x1="343.61" x2="343.61" y1="415.4" y2="542.4" stroke="#eeeeee" stroke-width="0.7"/>
<line x1="359.69" x2="359.69" y1="415.4" y2="542.4" stroke="#eeeeee" stroke-width="0.7"/>
<line x1="375.76" x2="375.76" y1="415.4" y2="542.4" stroke="#eeeeee" stroke-width="0.7"/>
<line x1="407.92" x2="407.92" y1="415.4" y2="542.4" stroke="#eeeeee" stroke-width="0.7"/>
<line x1="423.99" x2="423.99" y1="415.4" y2="542.4" stroke="#eeeeee" stroke-width="0.7"/>
<line x1="440.07" x2="440.07" y1="415.4" y2="542.4" stroke="#eeeeee" stroke-width="0.7"/>
<line x1="456.15" x2="456.15" y1="415.4" y2="542.4" stroke="#eeeeee" stroke-width="0.7"/>
<line x1="488.3" x2="488.3" y1="415.4" y2="542.4" stroke="#eeeeee" stroke-width="0.7"/>
<line x1="504.38" x2="504.38" y1="415.4" y2="542.4" stroke="#eeeeee" stroke-width="0.7"/>
<line x1="520.46" x2="520.46" y1="415.4" y2="542.4" stroke="#eeeeee" stroke-width="0.7"/>
<line x1="536.53" x2="536.53" y1="415.4" y2="542.4" stroke="#eeeeee" stroke-width="0.7"/>
<line x1="568.69" x2="568.69" y1="415.4" y2="542.4" stroke="#eeeeee" stroke-width="0.7"/>
<line x1="584.76" x2="584.76" y1="415.4" y2="542.4" stroke="#eeeeee" stroke-width="0.7"/>
<line x1="600.84" x2="600.84" y1="415.4" y2="542.4" stroke="#eeeeee" stroke-width="0.7"/>
<line x1="616.92" x2="616.92" y1="415.4" y2="542.4" stroke="#eeeeee" stroke-width="0.7"/>
<line x1="55.5" x2="648.5" y1="537.15" y2="537.15" stroke="#e9e8e7" stroke-width="1.2"/>
<line x1="55.5" x2="648.5" y1="498.37" y2="498.37" stroke="#e9e8e7" stroke-width="1.2"/>
<line x1="55.5" x2="648.5" y1="459.58" y2="459.58" stroke="#e9e8e7" stroke-width="1.2"/>
<line x1="55.5" x2="648.5" y1="420.79" y2="420.79" stroke="#e9e8e7" stroke-width="1.2"/>
<line x1="70.3" x2="70.3" y1="415.4" y2="542.4" stroke="#b0b0b0" stroke-width="1.85"/>
<line x1="150.69" x2="150.69" y1="415.4" y2="542.4" stroke="#b0b0b0" stroke-width="1.85"/>
<line x1="231.07" x2="231.07" y1="415.4" y2="542.4" stroke="#b0b0b0" stroke-width="1.85"/>
<line x1="311.45" x2="311.45" y1="415.4" y2="542.4" stroke="#b0b0b0" stroke-width="1.85"/>
<line x1="391.84" x2="391.84" y1="415.4" y2="542.4" stroke="#b0b0b0" stroke-width="1.85"/>
<line x1="472.23" x2="472.23" y1="415.4" y2="542.4" stroke="#b0b0b0" stroke-width="1.85"/>
<line x1="552.61" x2="552.61" y1="415.4" y2="542.4" stroke="#b0b0b0" stroke-width="1.85"/>
<line x1="632.99" x2="632.99" y1="415.4" y2="542.4" stroke="#b0b0b0" stroke-width="1.85"/>
<rect x="143.44" y="527.38" width="14.5" height="9.77" fill="#7f7f7f"/>
<rect x="159.51" y="527.84" width="14.5" height="9.31" fill="#7f7f7f"/>
<rect x="175.59" y="526.45" width="14.5" height="10.7" fill="#7f7f7f"/>
<rect x="191.67" y="519.46" width="14.5" height="17.69" fill="#7f7f7f"/>
<rect x="207.74" y="518.77" width="14.5" height="18.38" fill="#7f7f7f"/>
<rect x="223.82" y="519.7" width="14.5" height="17.45" fill="#7f7f7f"/>
<rect x="239.9" y="524.35" width="14.5" height="12.8" fill="#7f7f7f"/>
<rect x="255.97" y="525.98" width="14.5" height="11.17" fill="#7f7f7f"/>
<rect x="272.05" y="525.28" width="14.5" height="11.87" fill="#7f7f7f"/>
<rect x="288.13" y="518.77" width="14.5" height="18.38" fill="#7f7f7f"/>
<rect x="304.2" y="498.13" width="14.5" height="39.02" fill="#7f7f7f"/>
<rect x="320.28" y="510.39" width="14.5" height="26.76" fill="#7f7f7f"/>
<rect x="336.36" y="500.23" width="14.5" height="36.92" fill="#7f7f7f"/>
<rect x="352.44" y="505.97" width="14.5" height="31.18" fill="#7f7f7f"/>
<rect x="368.51" y="517.21" width="14.5" height="19.94" fill="#7f7f7f"/>
<rect x="384.59" y="503.33" width="14.5" height="33.82" fill="#7f7f7f"/>
<rect x="400.67" y="529.01" width="14.5" height="8.14" fill="#7f7f7f"/>
<rect x="416.74" y="530.87" width="14.5" height="6.28" fill="#7f7f7f"/>
<rect x="432.82" y="527.45" width="14.5" height="9.7" fill="#7f7f7f"/>
<rect x="448.9" y="526.14" width="14.5" height="11.01" fill="#7f7f7f"/>
<rect x="464.98" y="526.52" width="14.5" height="10.63" fill="#7f7f7f"/>
<rect x="481.05" y="527.92" width="14.5" height="9.23" fill="#7f7f7f"/>
<rect x="513.21" y="472.84" width="14.5" height="64.31" fill="#7f7f7f"/>
<rect x="529.28" y="463.46" width="14.5" height="73.69" fill="#7f7f7f"/>
<rect x="593.59" y="437.08" width="14.5" height="100.07" fill="#7f7f7f"/>
<rect x="55.5" y="415.4" width="593" height="127" fill="none" stroke="#3d3d3d" stroke-width="1.12"/>
<rect x="648.95" y="415.4" width="32.65" height="127" fill="#dbdbdb" stroke="#333" stroke-width="1.3"/>
<text transform="translate(657.7 478.9) rotate(90)" text-anchor="middle" font-size="20.2" font-weight="bold" fill="#1a1a1a">mass finds</text>
<line x1="50.3" x2="55.5" y1="537.15" y2="537.15" stroke="#333" stroke-width="1.8"/>
<text x="46.6" y="542" text-anchor="end" font-size="13.4" fill="#111">0</text>
<line x1="50.3" x2="55.5" y1="498.37" y2="498.37" stroke="#333" stroke-width="1.8"/>
<text x="46.6" y="503" text-anchor="end" font-size="13.4" fill="#111">5</text>
<line x1="50.3" x2="55.5" y1="459.58" y2="459.58" stroke="#333" stroke-width="1.8"/>
<text x="46.6" y="464" text-anchor="end" font-size="13.4" fill="#111">10</text>
<line x1="50.3" x2="55.5" y1="420.79" y2="420.79" stroke="#333" stroke-width="1.8"/>
<text x="46.6" y="426" text-anchor="end" font-size="13.4" fill="#111">15</text>
</g>
<g>
<line x1="55.5" x2="648.5" y1="655.17" y2="655.17" stroke="#eeeeee" stroke-width="0.7"/>
<line x1="55.5" x2="648.5" y1="616.3" y2="616.3" stroke="#eeeeee" stroke-width="0.7"/>
<line x1="55.5" x2="648.5" y1="577.44" y2="577.44" stroke="#eeeeee" stroke-width="0.7"/>
<line x1="86.38" x2="86.38" y1="552.55" y2="679.6" stroke="#eeeeee" stroke-width="0.7"/>
<line x1="102.45" x2="102.45" y1="552.55" y2="679.6" stroke="#eeeeee" stroke-width="0.7"/>
<line x1="118.53" x2="118.53" y1="552.55" y2="679.6" stroke="#eeeeee" stroke-width="0.7"/>
<line x1="134.61" x2="134.61" y1="552.55" y2="679.6" stroke="#eeeeee" stroke-width="0.7"/>
<line x1="166.76" x2="166.76" y1="552.55" y2="679.6" stroke="#eeeeee" stroke-width="0.7"/>
<line x1="182.84" x2="182.84" y1="552.55" y2="679.6" stroke="#eeeeee" stroke-width="0.7"/>
<line x1="198.92" x2="198.92" y1="552.55" y2="679.6" stroke="#eeeeee" stroke-width="0.7"/>
<line x1="214.99" x2="214.99" y1="552.55" y2="679.6" stroke="#eeeeee" stroke-width="0.7"/>
<line x1="247.15" x2="247.15" y1="552.55" y2="679.6" stroke="#eeeeee" stroke-width="0.7"/>
<line x1="263.22" x2="263.22" y1="552.55" y2="679.6" stroke="#eeeeee" stroke-width="0.7"/>
<line x1="279.3" x2="279.3" y1="552.55" y2="679.6" stroke="#eeeeee" stroke-width="0.7"/>
<line x1="295.38" x2="295.38" y1="552.55" y2="679.6" stroke="#eeeeee" stroke-width="0.7"/>
<line x1="327.53" x2="327.53" y1="552.55" y2="679.6" stroke="#eeeeee" stroke-width="0.7"/>
<line x1="343.61" x2="343.61" y1="552.55" y2="679.6" stroke="#eeeeee" stroke-width="0.7"/>
<line x1="359.69" x2="359.69" y1="552.55" y2="679.6" stroke="#eeeeee" stroke-width="0.7"/>
<line x1="375.76" x2="375.76" y1="552.55" y2="679.6" stroke="#eeeeee" stroke-width="0.7"/>
<line x1="407.92" x2="407.92" y1="552.55" y2="679.6" stroke="#eeeeee" stroke-width="0.7"/>
<line x1="423.99" x2="423.99" y1="552.55" y2="679.6" stroke="#eeeeee" stroke-width="0.7"/>
<line x1="440.07" x2="440.07" y1="552.55" y2="679.6" stroke="#eeeeee" stroke-width="0.7"/>
<line x1="456.15" x2="456.15" y1="552.55" y2="679.6" stroke="#eeeeee" stroke-width="0.7"/>
<line x1="488.3" x2="488.3" y1="552.55" y2="679.6" stroke="#eeeeee" stroke-width="0.7"/>
<line x1="504.38" x2="504.38" y1="552.55" y2="679.6" stroke="#eeeeee" stroke-width="0.7"/>
<line x1="520.46" x2="520.46" y1="552.55" y2="679.6" stroke="#eeeeee" stroke-width="0.7"/>
<line x1="536.53" x2="536.53" y1="552.55" y2="679.6" stroke="#eeeeee" stroke-width="0.7"/>
<line x1="568.69" x2="568.69" y1="552.55" y2="679.6" stroke="#eeeeee" stroke-width="0.7"/>
<line x1="584.76" x2="584.76" y1="552.55" y2="679.6" stroke="#eeeeee" stroke-width="0.7"/>
<line x1="600.84" x2="600.84" y1="552.55" y2="679.6" stroke="#eeeeee" stroke-width="0.7"/>
<line x1="616.92" x2="616.92" y1="552.55" y2="679.6" stroke="#eeeeee" stroke-width="0.7"/>
<line x1="55.5" x2="648.5" y1="674.6" y2="674.6" stroke="#e9e8e7" stroke-width="1.2"/>
<line x1="55.5" x2="648.5" y1="635.74" y2="635.74" stroke="#e9e8e7" stroke-width="1.2"/>
<line x1="55.5" x2="648.5" y1="596.87" y2="596.87" stroke="#e9e8e7" stroke-width="1.2"/>
<line x1="55.5" x2="648.5" y1="558" y2="558" stroke="#e9e8e7" stroke-width="1.2"/>
<line x1="70.3" x2="70.3" y1="552.55" y2="679.6" stroke="#b0b0b0" stroke-width="1.85"/>
<line x1="150.69" x2="150.69" y1="552.55" y2="679.6" stroke="#b0b0b0" stroke-width="1.85"/>
<line x1="231.07" x2="231.07" y1="552.55" y2="679.6" stroke="#b0b0b0" stroke-width="1.85"/>
<line x1="311.45" x2="311.45" y1="552.55" y2="679.6" stroke="#b0b0b0" stroke-width="1.85"/>
<line x1="391.84" x2="391.84" y1="552.55" y2="679.6" stroke="#b0b0b0" stroke-width="1.85"/>
<line x1="472.23" x2="472.23" y1="552.55" y2="679.6" stroke="#b0b0b0" stroke-width="1.85"/>
<line x1="552.61" x2="552.61" y1="552.55" y2="679.6" stroke="#b0b0b0" stroke-width="1.85"/>
<line x1="632.99" x2="632.99" y1="552.55" y2="679.6" stroke="#b0b0b0" stroke-width="1.85"/>
<rect x="63.05" y="659.05" width="14.5" height="15.55" fill="#7f7f7f"/>
<rect x="79.13" y="659.05" width="14.5" height="15.55" fill="#7f7f7f"/>
<rect x="95.2" y="659.05" width="14.5" height="15.55" fill="#7f7f7f"/>
<rect x="111.28" y="659.05" width="14.5" height="15.55" fill="#7f7f7f"/>
<rect x="127.36" y="659.05" width="14.5" height="15.55" fill="#7f7f7f"/>
<rect x="143.44" y="651.28" width="14.5" height="23.32" fill="#7f7f7f"/>
<rect x="159.51" y="651.28" width="14.5" height="23.32" fill="#7f7f7f"/>
<rect x="175.59" y="651.28" width="14.5" height="23.32" fill="#7f7f7f"/>
<rect x="191.67" y="643.51" width="14.5" height="31.09" fill="#7f7f7f"/>
<rect x="207.74" y="643.51" width="14.5" height="31.09" fill="#7f7f7f"/>
<rect x="223.82" y="635.74" width="14.5" height="38.87" fill="#7f7f7f"/>
<rect x="239.9" y="612.42" width="14.5" height="62.18" fill="#7f7f7f"/>
<rect x="255.97" y="620.19" width="14.5" height="54.41" fill="#7f7f7f"/>
<rect x="272.05" y="604.64" width="14.5" height="69.96" fill="#7f7f7f"/>
<rect x="288.13" y="620.19" width="14.5" height="54.41" fill="#7f7f7f"/>
<rect x="304.2" y="620.19" width="14.5" height="54.41" fill="#7f7f7f"/>
<rect x="320.28" y="635.74" width="14.5" height="38.87" fill="#7f7f7f"/>
<rect x="336.36" y="627.96" width="14.5" height="46.64" fill="#7f7f7f"/>
<rect x="352.44" y="589.1" width="14.5" height="85.5" fill="#7f7f7f"/>
<rect x="368.51" y="581.32" width="14.5" height="93.28" fill="#7f7f7f"/>
<rect x="384.59" y="589.1" width="14.5" height="85.5" fill="#7f7f7f"/>
<rect x="400.67" y="596.87" width="14.5" height="77.73" fill="#7f7f7f"/>
<rect x="416.74" y="596.87" width="14.5" height="77.73" fill="#7f7f7f"/>
<rect x="432.82" y="565.78" width="14.5" height="108.82" fill="#7f7f7f"/>
<rect x="448.9" y="573.55" width="14.5" height="101.05" fill="#7f7f7f"/>
<rect x="464.98" y="596.87" width="14.5" height="77.73" fill="#7f7f7f"/>
<rect x="481.05" y="635.74" width="14.5" height="38.87" fill="#7f7f7f"/>
<rect x="497.13" y="659.05" width="14.5" height="15.55" fill="#7f7f7f"/>
<rect x="513.21" y="659.05" width="14.5" height="15.55" fill="#7f7f7f"/>
<rect x="529.28" y="659.05" width="14.5" height="15.55" fill="#7f7f7f"/>
<rect x="545.36" y="659.05" width="14.5" height="15.55" fill="#7f7f7f"/>
<rect x="561.44" y="659.05" width="14.5" height="15.55" fill="#7f7f7f"/>
<rect x="577.51" y="635.74" width="14.5" height="38.87" fill="#7f7f7f"/>
<rect x="593.59" y="651.28" width="14.5" height="23.32" fill="#7f7f7f"/>
<rect x="609.67" y="659.05" width="14.5" height="15.55" fill="#7f7f7f"/>
<rect x="55.5" y="552.55" width="593" height="127.05" fill="none" stroke="#3d3d3d" stroke-width="1.12"/>
<rect x="648.95" y="552.55" width="32.65" height="127.05" fill="#dbdbdb" stroke="#333" stroke-width="1.3"/>
<text transform="translate(657.7 616.08) rotate(90)" text-anchor="middle" font-size="20.2" font-weight="bold" fill="#1a1a1a">sites</text>
<line x1="50.3" x2="55.5" y1="674.6" y2="674.6" stroke="#333" stroke-width="1.8"/>
<text x="46.6" y="679" text-anchor="end" font-size="13.4" fill="#111">0</text>
<line x1="50.3" x2="55.5" y1="635.74" y2="635.74" stroke="#333" stroke-width="1.8"/>
<text x="46.6" y="641" text-anchor="end" font-size="13.4" fill="#111">5</text>
<line x1="50.3" x2="55.5" y1="596.87" y2="596.87" stroke="#333" stroke-width="1.8"/>
<text x="46.6" y="602" text-anchor="end" font-size="13.4" fill="#111">10</text>
<line x1="50.3" x2="55.5" y1="558" y2="558" stroke="#333" stroke-width="1.8"/>
<text x="46.6" y="563" text-anchor="end" font-size="13.4" fill="#111">15</text>
</g>
<line x1="70.3" x2="70.3" y1="679.6" y2="684.8" stroke="#333" stroke-width="1.9"/>
<text x="70.3" y="700.9" text-anchor="middle" font-size="17" fill="#111">-4000</text>
<line x1="150.69" x2="150.69" y1="679.6" y2="684.8" stroke="#333" stroke-width="1.9"/>
<text x="150.69" y="700.9" text-anchor="middle" font-size="17" fill="#111">-3500</text>
<line x1="231.07" x2="231.07" y1="679.6" y2="684.8" stroke="#333" stroke-width="1.9"/>
<text x="231.07" y="700.9" text-anchor="middle" font-size="17" fill="#111">-3000</text>
<line x1="311.45" x2="311.45" y1="679.6" y2="684.8" stroke="#333" stroke-width="1.9"/>
<text x="311.45" y="700.9" text-anchor="middle" font-size="17" fill="#111">-2500</text>
<line x1="391.84" x2="391.84" y1="679.6" y2="684.8" stroke="#333" stroke-width="1.9"/>
<text x="391.84" y="700.9" text-anchor="middle" font-size="17" fill="#111">-2000</text>
<line x1="472.23" x2="472.23" y1="679.6" y2="684.8" stroke="#333" stroke-width="1.9"/>
<text x="472.23" y="700.9" text-anchor="middle" font-size="17" fill="#111">-1500</text>
<line x1="552.61" x2="552.61" y1="679.6" y2="684.8" stroke="#333" stroke-width="1.9"/>
<text x="552.61" y="700.9" text-anchor="middle" font-size="17" fill="#111">-1000</text>
<line x1="632.99" x2="632.99" y1="679.6" y2="684.8" stroke="#333" stroke-width="1.9"/>
<text x="632.99" y="700.9" text-anchor="middle" font-size="17" fill="#111">-500</text>
<text x="351.5" y="723" text-anchor="middle" font-size="20.4" font-weight="bold" fill="#000">Age BCE</text>
<rect x="26" y="755.4" width="24.4" height="15.4" fill="#e9dd32" stroke="#000" stroke-width="1.6"/>
<text x="59.5" y="769" font-size="16.9" fill="#111">millet</text>
<rect x="148.1" y="755.4" width="24.4" height="15.4" fill="#c5e67f" stroke="#000" stroke-width="1.6"/>
<text x="181.6" y="769" font-size="16.9" fill="#111">naked barley</text>
<rect x="312" y="755.4" width="24.4" height="15.4" fill="#a2cf5f" stroke="#000" stroke-width="1.6"/>
<text x="345.5" y="769" font-size="16.9" fill="#111">hulled barley</text>
<rect x="474.5" y="755.4" width="24.4" height="15.4" fill="#ee8626" stroke="#000" stroke-width="1.6"/>
<text x="508" y="769" font-size="16.9" fill="#111">free-threshing wheat</text>
<rect x="26" y="782.8" width="24.4" height="15.4" fill="#ce6807" stroke="#000" stroke-width="1.6"/>
<text x="59.5" y="797" font-size="16.9" fill="#111">einkorn</text>
<rect x="148.1" y="782.8" width="24.4" height="15.4" fill="#8b4506" stroke="#000" stroke-width="1.6"/>
<text x="181.6" y="797" font-size="16.9" fill="#111">emmer</text>
</svg>
</body></html>
